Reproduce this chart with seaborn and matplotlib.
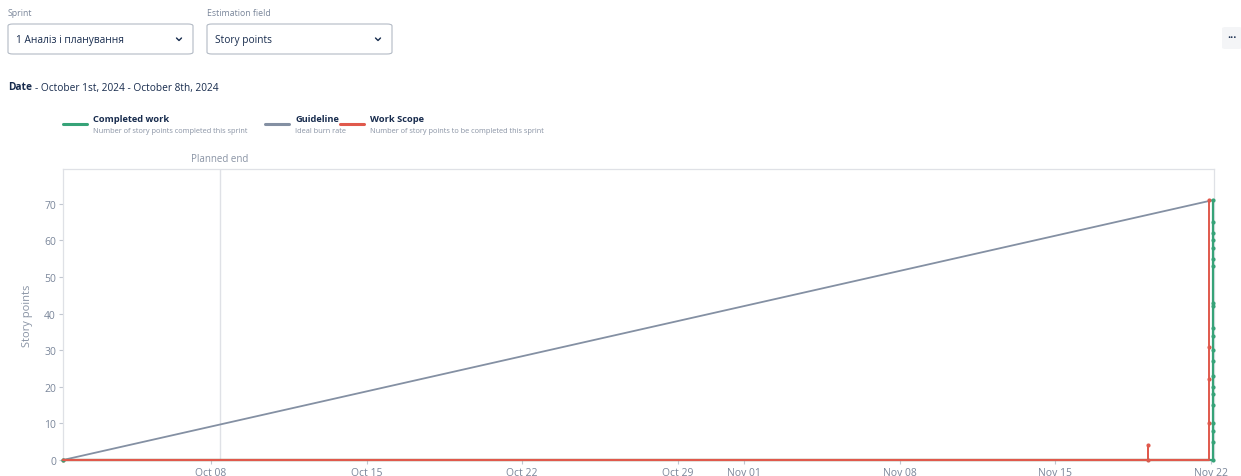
import matplotlib
matplotlib.use("Agg")
import matplotlib.pyplot as plt
import matplotlib.dates as mdates
from matplotlib.lines import Line2D
from matplotlib.patches import FancyBboxPatch
import seaborn as sns
import pandas as pd

sns.set_theme(style="white")
plt.rcParams["font.family"] = ["Open Sans", "DejaVu Sans"]

# -------------------------------
# DATA
# -------------------------------
sprint_start = "2024-10-01 08:00"
planned_end = "2024-10-08 09:40"
chart_end = "2024-11-22 03:40"

guide_times = ["2024-10-01 08:00", "2024-11-22 02:30"]
guide_values = [0, 71]

done_times = ["2024-10-01 08:00"] + ["2024-11-22 02:30"] * 21
done_values = [0, 0, 5, 8, 10, 15, 18, 20, 23, 27, 30, 34, 36, 42, 43, 53, 55, 58, 60, 62, 65, 71]

scope_times = ["2024-10-01 08:00", "2024-11-19 04:00", "2024-11-19 04:00",
               "2024-11-21 22:00", "2024-11-21 22:00", "2024-11-21 22:00",
               "2024-11-21 22:00"]
scope_values = [0, 4, 0, 10, 22, 31, 71]

tick_dates = ["2024-10-08", "2024-10-15", "2024-10-22", "2024-10-29",
              "2024-11-01", "2024-11-08", "2024-11-15", "2024-11-22"]
y_ticks = [0, 10, 20, 30, 40, 50, 60, 70]

GREEN = "#36a378"
GREY = "#8490a3"
RED = "#e0594c"
TXT = "#172b4d"
SUB = "#7a869a"

W, H = 1241, 477


def fx(x):
    return x / W


def fy(y):
    return 1 - y / H


# -------------------------------
# FIGURE
# -------------------------------
fig = plt.figure(figsize=(12.41, 4.77), dpi=100)
ax = fig.add_axes([fx(63), fy(461), fx(1214) - fx(63), fy(170) - fy(461)])

guide = pd.DataFrame({"t": pd.to_datetime(guide_times), "v": guide_values})
done = pd.DataFrame({"t": pd.to_datetime(done_times), "v": done_values})
scope = pd.DataFrame({"t": pd.to_datetime(scope_times), "v": scope_values})

sns.lineplot(data=guide, x="t", y="v", ax=ax, color=GREY, linewidth=1.3,
             estimator=None, sort=False, zorder=2, clip_on=False)
sns.lineplot(data=scope, x="t", y="v", ax=ax, color=RED, linewidth=1.4,
             estimator=None, sort=False, drawstyle="steps-post", marker="o",
             markersize=3, markeredgewidth=0, zorder=3, clip_on=False)
sns.lineplot(data=done, x="t", y="v", ax=ax, color=GREEN, linewidth=1.6,
             estimator=None, sort=False, drawstyle="steps-post", marker="o",
             markersize=3, markeredgewidth=0, zorder=4, clip_on=False)
# keep the scope baseline on top, as in the original chart
ax.plot(pd.to_datetime([sprint_start, scope_times[-1]]), [0, 0], color=RED,
        linewidth=1.6, zorder=5, clip_on=False)

ax.axvline(pd.Timestamp(planned_end), color="#dfe1e6", linewidth=1, zorder=1)
ax.text(pd.Timestamp(planned_end), 80.8, "Planned end", ha="center", va="bottom",
        fontsize=7, color="#8993a4")

ax.set_xlim(pd.Timestamp(sprint_start), pd.Timestamp(chart_end))
ax.set_ylim(0, 79.5)
ax.set_xticks(pd.to_datetime(tick_dates))
ax.xaxis.set_major_formatter(mdates.DateFormatter("%b %d"))
ax.set_yticks(y_ticks)
ax.tick_params(axis="both", labelsize=7.5, labelcolor=SUB, color="#c1c7d0",
               length=3, width=0.8, pad=2, bottom=True, left=True)
ax.set_xlabel("")
ax.set_ylabel("Story points", fontsize=8, color="#8993a4", labelpad=8)
for side in ["top", "right", "left", "bottom"]:
    ax.spines[side].set_color("#dfe1e6")
    ax.spines[side].set_linewidth(0.9)

# -------------------------------
# LEGEND
# -------------------------------
legend_items = [
    (63, GREEN, "Completed work", "Number of story points completed this sprint"),
    (265, GREY, "Guideline", "Ideal burn rate"),
    (340, RED, "Work Scope", "Number of story points to be completed this sprint"),
]
for x0, col, title, sub in legend_items:
    fig.add_artist(Line2D([fx(x0), fx(x0 + 24)], [fy(125), fy(125)], color=col, linewidth=2.2))
    fig.text(fx(x0 + 30), fy(120), title, fontsize=6.7, fontweight="bold", color=TXT, va="center")
    fig.text(fx(x0 + 30), fy(132), sub, fontsize=5.3, color="#8993a4", va="center")

# -------------------------------
# HEADER CONTROLS
# -------------------------------
fig.text(fx(8), fy(14), "Sprint", fontsize=6.3, color=SUB, va="center")
fig.text(fx(207), fy(14), "Estimation field", fontsize=6.3, color=SUB, va="center")
for x0, x1, label in [(8, 193, "1 Аналіз і планування"), (207, 392, "Story points")]:
    box = FancyBboxPatch((fx(x0), fy(55)), fx(x1) - fx(x0), fy(25) - fy(55),
                         boxstyle="round,pad=0,rounding_size=0.004",
                         transform=fig.transFigure, facecolor="white",
                         edgecolor="#b3bac5", linewidth=0.8)
    fig.add_artist(box)
    fig.text(fx(x0 + 8), fy(40), label, fontsize=7.3, color=TXT, va="center")
    cx = x1 - 14
    fig.add_artist(Line2D([fx(cx - 2.5), fx(cx), fx(cx + 2.5)], [fy(39), fy(41.5), fy(39)],
                          color=TXT, linewidth=1))

dots = FancyBboxPatch((fx(1222), fy(50)), fx(20), fy(28) - fy(50),
                      boxstyle="round,pad=0,rounding_size=0.003",
                      transform=fig.transFigure, facecolor="#f4f5f7", edgecolor="none")
fig.add_artist(dots)
fig.text(fx(1232), fy(38), "•••", fontsize=6, color=TXT, ha="center", va="center")

fig.text(fx(8), fy(88), "Date", fontsize=7.3, fontweight="bold", color=TXT, va="center")
fig.text(fx(35), fy(88), "- October 1st, 2024 - October 8th, 2024", fontsize=7.3,
         color=TXT, va="center")

fig.savefig("out.png", dpi=100)
